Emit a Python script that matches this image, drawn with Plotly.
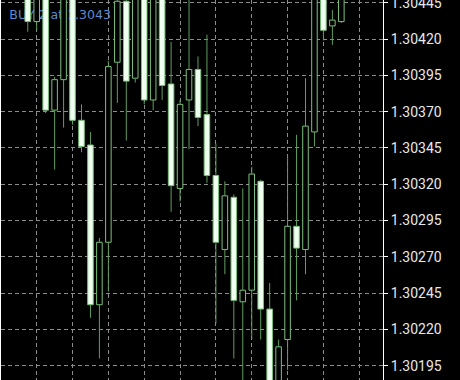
import plotly.graph_objects as go

# ---- data ----
candle_index = list(range(3, 39))
opens = [1.30460, 1.30432, 1.30458, 1.30371, 1.30392, 1.30460, 1.30364, 1.30347,
         1.30237, 1.30280, 1.30404, 1.30446, 1.30393, 1.30458, 1.30378, 1.30460,
         1.30389, 1.30317, 1.30378, 1.30399, 1.30368, 1.30326, 1.30275, 1.30311,
         1.30239, 1.30247, 1.30322, 1.30234, 1.30180, 1.30213, 1.30291, 1.30275,
         1.30356, 1.30460, 1.30429, 1.30432]
highs = [1.30470, 1.30470, 1.30465, 1.30394, 1.30455, 1.30468, 1.30375, 1.30356,
         1.30283, 1.30405, 1.30452, 1.30452, 1.30468, 1.30465, 1.30462, 1.30466,
         1.30418, 1.30378, 1.30455, 1.30408, 1.30423, 1.30348, 1.30322, 1.30313,
         1.30317, 1.30332, 1.30323, 1.30252, 1.30213, 1.30340, 1.30354, 1.30393,
         1.30465, 1.30468, 1.30440, 1.30458]
lows = [1.30425, 1.30426, 1.30369, 1.30330, 1.30359, 1.30361, 1.30342, 1.30228,
        1.30200, 1.30246, 1.30376, 1.30350, 1.30390, 1.30375, 1.30371, 1.30378,
        1.30301, 1.30308, 1.30344, 1.30360, 1.30321, 1.30224, 1.30258, 1.30200,
        1.30180, 1.30213, 1.30213, 1.30175, 1.30172, 1.30192, 1.30240, 1.30258,
        1.30346, 1.30419, 1.30416, 1.30431]
closes = [1.30432, 1.30462, 1.30371, 1.30392, 1.30450, 1.30364, 1.30346, 1.30237,
          1.30280, 1.30401, 1.30446, 1.30391, 1.30460, 1.30378, 1.30455, 1.30388,
          1.30319, 1.30375, 1.30399, 1.30366, 1.30326, 1.30280, 1.30312, 1.30240,
          1.30247, 1.30327, 1.30234, 1.30180, 1.30208, 1.30291, 1.30276, 1.30360,
          1.30458, 1.30426, 1.30433, 1.30452]
price_ticks = [1.30195, 1.30220, 1.30245, 1.30270, 1.30295, 1.30320,
               1.30345, 1.30370, 1.30395, 1.30420, 1.30445]
order_label = "BUY 2 at 1.3043"
order_price = 1.304362

# ---- styles ----
GREEN_EDGE = "#7cc07c"
GREEN_WICK = "#5e9e5e"
WHITE_FILL = "#effff0"
GRID = "#8c8c8c"
Y_RANGE = [1.3018515, 1.3044686]
X_RANGE = [0.016, 42.65]

bull_x, bull_base, bull_h = [], [], []
bear_x, bear_base, bear_h = [], [], []
wick_x, wick_y = [], []
for k, o, h, l, c in zip(candle_index, opens, highs, lows, closes):
    top, bot = max(o, c), min(o, c)
    if c > o:
        bull_x.append(k); bull_base.append(bot); bull_h.append(top - bot)
    else:
        bear_x.append(k); bear_base.append(bot); bear_h.append(max(top - bot, 0.000005))
    if h > top:
        wick_x += [k, k, None]; wick_y += [top, h, None]
    if l < bot:
        wick_x += [k, k, None]; wick_y += [bot, l, None]

fig = go.Figure()

# text under the candles (main subplot)
fig.add_trace(go.Scatter(
    x=[0.95], y=[order_price], mode="text", text=[order_label],
    textposition="middle right",
    textfont=dict(family="DejaVu Sans", size=12.5, color="#5b8bd0"),
    xaxis="x", yaxis="y", hoverinfo="skip"))

# candles on overlay subplot (drawn above the text)
fig.add_trace(go.Scatter(
    x=wick_x, y=wick_y, mode="lines",
    line=dict(color=GREEN_WICK, width=1),
    xaxis="x2", yaxis="y2", hoverinfo="skip"))
fig.add_trace(go.Bar(
    x=bull_x, y=bull_h, base=bull_base, width=0.62,
    marker=dict(color="#000000", line=dict(color=GREEN_EDGE, width=1)),
    xaxis="x2", yaxis="y2", hoverinfo="skip"))
fig.add_trace(go.Bar(
    x=bear_x, y=bear_h, base=bear_base, width=0.62,
    marker=dict(color=WHITE_FILL, line=dict(color=GREEN_EDGE, width=1)),
    xaxis="x2", yaxis="y2", hoverinfo="skip"))

fig.update_layout(
    width=460, height=380,
    margin=dict(l=1, r=77, t=0, b=0, autoexpand=False),
    paper_bgcolor="#000000", plot_bgcolor="#000000",
    showlegend=False, hovermode=False, barmode="overlay",
    xaxis=dict(range=X_RANGE, showgrid=True, gridcolor=GRID, griddash="4px,3px",
               gridwidth=1, tick0=0, dtick=4, showticklabels=False, ticks="",
               zeroline=False, showline=False, fixedrange=True, automargin=False),
    yaxis=dict(range=Y_RANGE, side="right", showgrid=True, gridcolor=GRID,
               griddash="4px,3px", gridwidth=1,
               tickmode="array", tickvals=price_ticks,
               ticktext=[f"{v:.5f}" for v in price_ticks],
               ticks="outside", ticklen=4, tickcolor="#ffffff", tickwidth=1,
               ticklabeloverflow="allow", automargin=False,
               tickfont=dict(family="Roboto", size=14, color="#e8e8e8"),
               showline=True, linecolor="#ffffff", linewidth=1, mirror=True,
               zeroline=False, fixedrange=True),
    xaxis2=dict(range=X_RANGE, overlaying="x", visible=False, showgrid=False,
                zeroline=False, fixedrange=True, automargin=False),
    yaxis2=dict(range=Y_RANGE, overlaying="y", visible=False, showgrid=False,
                zeroline=False, fixedrange=True, automargin=False),
)

fig.write_html("out.html")
